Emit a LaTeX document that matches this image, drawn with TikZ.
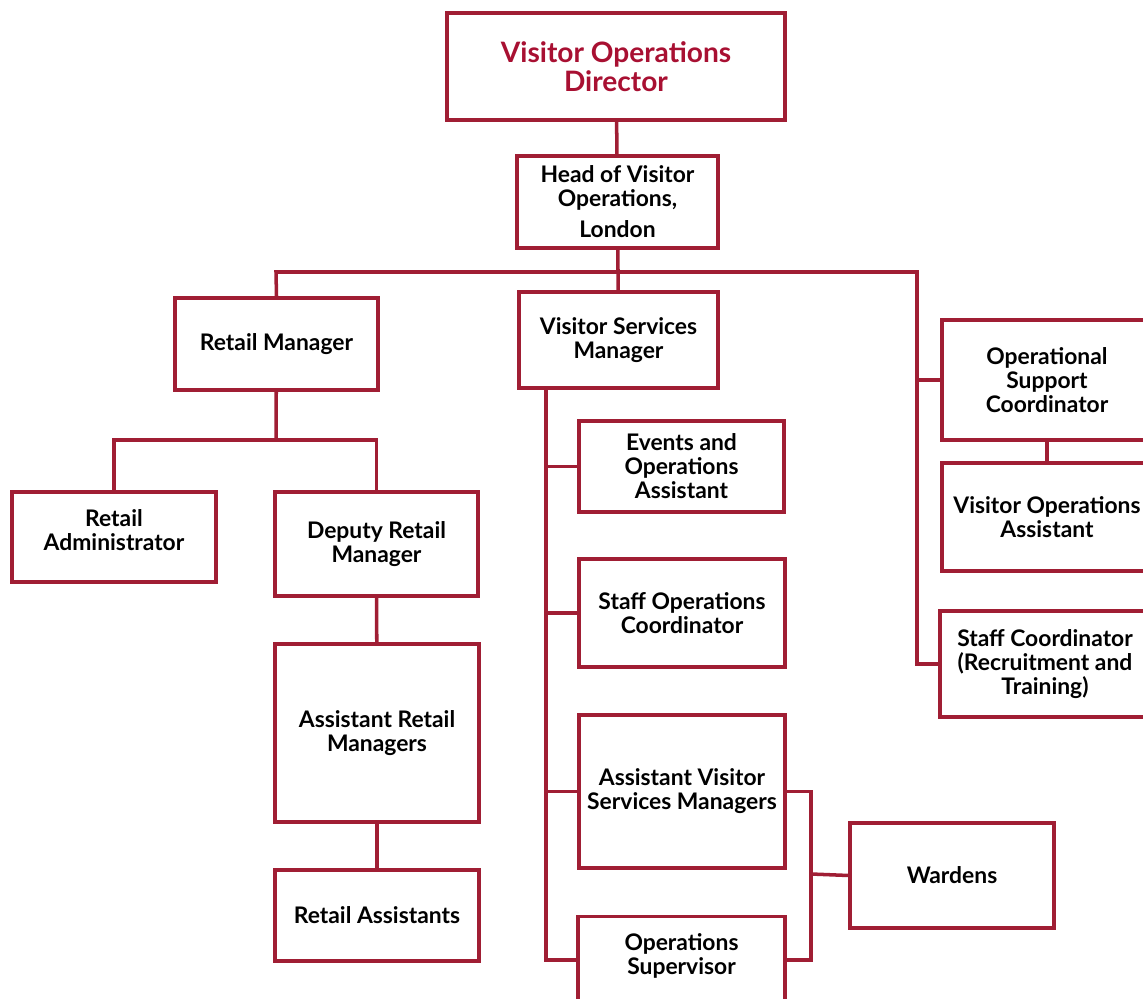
\documentclass[tikz,border=0pt]{standalone}
\usepackage{fontspec}
\setmainfont{Lato}
\usetikzlibrary{positioning}
\definecolor{maroon}{RGB}{160,30,52}
\definecolor{titlered}{RGB}{168,16,50}
\tikzset{
x=0.02cm, y=-0.02cm, % pixel grid of the chart
post/.style={draw=maroon, line width=2pt, align=center, inner sep=2pt,
  font=\bfseries\fontsize{13}{13.6}\selectfont}, % every job box
link/.style={draw=maroon, line width=2pt}, % reporting lines
}
\begin{document}
\begin{tikzpicture}
\useasboundingbox (0,0) rectangle (1143,999);
% top of the chart
\node[post, minimum width=6.76cm, minimum height=2.14cm, text=titlered,
  font=\bfseries\fontsize{16}{16.5}\selectfont] (dir) at (616,66.5) {Visitor Operations\\Director};
\node[post, minimum width=4.02cm, minimum height=1.84cm] (head) at (617.5,202) {Head of Visitor\\Operations,\\[4pt]London};
% second level
\node[post, minimum width=4.06cm, minimum height=1.84cm] (rm) at (276.5,344) {Retail Manager};
\node[post, minimum width=3.98cm, minimum height=1.92cm] (vsm) at (618.5,340) {Visitor Services\\Manager};
\node[post, minimum width=4.2cm, minimum height=2.4cm] (osc) at (1047,380) {Operational\\Support\\Coordinator};
\node[post, minimum width=4.2cm, minimum height=2.16cm] (voa) at (1047,517) {Visitor Operations\\Assistant};
\node[post, minimum width=4.2cm, minimum height=2.12cm] (sc) at (1045,664) {Staff Coordinator\\(Recruitment and\\Training)};
% retail side
\node[post, minimum width=4.08cm, minimum height=1.8cm] (radm) at (114,537) {Retail\\Administrator\\[-6pt]};
\node[post, minimum width=4.06cm, minimum height=2.08cm] (drm) at (376.5,544) {Deputy Retail\\Manager};
\node[post, minimum width=4.08cm, minimum height=3.56cm] (arm) at (377,733) {Assistant Retail\\Managers};
\node[post, minimum width=4.08cm, minimum height=1.82cm] (rass) at (377,915.5) {Retail Assistants};
% visitor services side
\node[post, minimum width=4.1cm, minimum height=1.82cm] (eoa) at (681.5,466.5) {Events and\\Operations\\Assistant};
\node[post, minimum width=4.12cm, minimum height=2.16cm] (soc) at (682,613) {Staff Operations\\Coordinator};
\node[post, minimum width=4.12cm, minimum height=3.06cm] (avsm) at (682,791.5) {Assistant Visitor\\Services Managers};
\node[post, minimum width=4.14cm, minimum height=1.9cm] (ops) at (681.5,964) {Operations\\Supervisor\\[-2pt]};
\node[post, minimum width=4.08cm, minimum height=2.1cm] (ward) at (952,875.5) {Wardens};
% reporting lines
\coordinate (busL) at (276,272);
\coordinate (busR) at (917,272);
\coordinate (rjoin) at (276,440);
\coordinate (vtop) at (546,388);
\coordinate (wjoin) at (811,874);
\draw[link] (dir) -- (head);
\draw[link] (head) -- (vsm);
\draw[link] (rm.north) -- (busL) -- (busR) |- (osc.west);
\draw[link] (busR) |- (sc.west);
\draw[link] (osc) -- (voa);
\draw[link] (rm) -- (rjoin);
\draw[link] (radm.north) |- (rjoin) -| (drm.north);
\draw[link] (drm) -- (arm);
\draw[link] (arm) -- (rass);
\draw[link] (vtop) |- ([yshift=0.08cm]ops.west);
\draw[link] (vtop |- eoa.west) -- (eoa.west);
\draw[link] (vtop |- soc.west) -- (soc.west);
\draw[link] (vtop |- avsm.west) -- (avsm.west);
\draw[link] (avsm.east) -| (wjoin) |- ([yshift=0.08cm]ops.east);
\draw[link] (wjoin) -- (ward.west);
\end{tikzpicture}
\end{document}
